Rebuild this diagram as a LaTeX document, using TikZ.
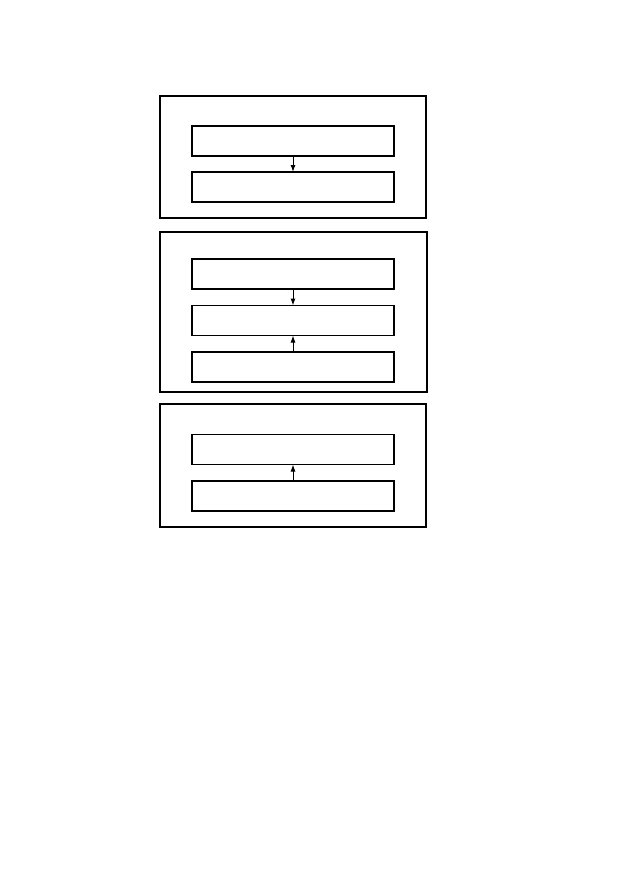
\documentclass[tikz,border=0pt]{standalone}
\usetikzlibrary{arrows.meta}
\begin{document}
\begin{tikzpicture}[x=1pt,y=-1pt,
  outerbox/.style={draw=black,line width=1.1pt,inner sep=0pt,outer sep=0pt},
  innerbox/.style={draw=black,line width=1.4pt,inner sep=0pt,outer sep=0pt,minimum width=202pt,minimum height=30pt},
  link/.style={line width=1pt,-{Latex[length=7pt,width=5pt]}}]
\useasboundingbox (0,0) rectangle (633,895);
% group 1
\node[outerbox,minimum width=266pt,minimum height=122pt] (g1) at (293,157) {};
\node[innerbox] (a) at (293,141) {};
\node[innerbox] (b) at (293,187) {};
\draw[link] (a.south) -- (b.north);
% group 2
\node[outerbox,minimum width=267pt,minimum height=160pt] (g2) at (293.5,312) {};
\node[innerbox] (c) at (293,274) {};
\node[innerbox] (d) at (293,320.5) {};
\node[innerbox] (e) at (293,367) {};
\draw[link] (c.south) -- (d.north);
\draw[link] (e.north) -- (d.south);
% group 3
\node[outerbox,minimum width=266pt,minimum height=123pt] (g3) at (293,465.5) {};
\node[innerbox] (f) at (293,449.5) {};
\node[innerbox] (g) at (293,496) {};
\draw[link] (g.north) -- (f.south);
\end{tikzpicture}
\end{document}
